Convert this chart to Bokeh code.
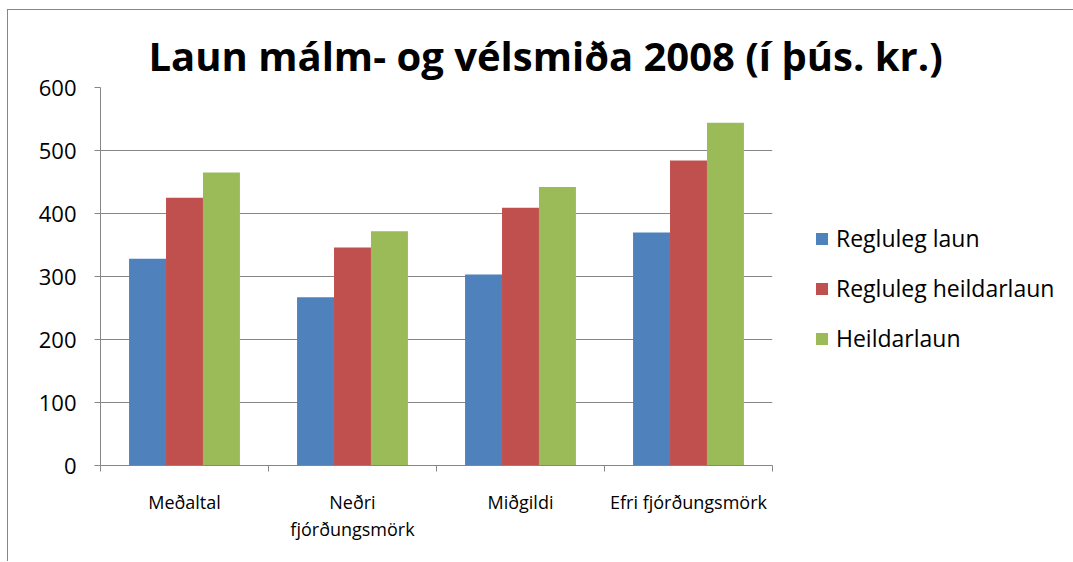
from bokeh.plotting import figure
from bokeh.models import Range1d, FixedTicker, Legend, LegendItem, ColumnDataSource
from bokeh.transform import dodge
from bokeh.embed import file_html
from bokeh.resources import INLINE

categories = ["Meðaltal", "Neðri\nfjórðungsmörk", "Miðgildi", "Efri fjórðungsmörk"]
series_names = ["Regluleg laun", "Regluleg heildarlaun", "Heildarlaun"]
regluleg_laun = [328, 267, 303, 370]
regluleg_heildarlaun = [425, 346, 409, 484]
heildarlaun = [465, 372, 442, 544]
y_ticks = [0, 100, 200, 300, 400, 500, 600]
colors = ["#4F81BD", "#C0504D", "#9BBB59"]

FONT = "Open Sans"
GRAY = "#868686"

src = ColumnDataSource(dict(
    x=list(range(len(categories))),
    s0=regluleg_laun, s1=regluleg_heildarlaun, s2=heildarlaun,
))

W, H = 1064, 551
p = figure(width=W, height=H, output_backend="svg", toolbar_location=None,
           x_range=Range1d(-0.5, len(categories) - 0.5), y_range=Range1d(0, 600),
           min_border_left=92, min_border_top=77, min_border_right=W - 92 - 672,
           min_border_bottom=H - 77 - 378)
p.frame_width = 672
p.frame_height = 378
p.outline_line_color = None
p.background_fill_color = "white"
p.border_fill_color = "white"
p.styles = {"margin-left": "7px", "margin-top": "9px",
            "border-top": "1px solid #868686", "border-left": "1px solid #868686"}

offs = [-0.22, 0.0, 0.22]
renderers = []
for i, key in enumerate(["s0", "s1", "s2"]):
    r = p.vbar(x=dodge("x", offs[i], range=p.x_range), top=key, width=0.22, bottom=0,
               source=src, fill_color=colors[i], line_color=None)
    renderers.append(r)

# title
p.title.text = "Laun málm- og vélsmiða 2008 (í þús. kr.)"
p.title.text_font = FONT
p.title.text_font_style = "bold"
p.title.text_font_size = "40px"
p.title.align = "left"
p.title.offset = 48
p.title.text_color = "black"

# y axis
ya = p.yaxis[0]
ya.ticker = FixedTicker(ticks=y_ticks)
ya.axis_line_color = GRAY
ya.major_tick_line_color = GRAY
ya.major_tick_out = 6
ya.major_tick_in = 0
ya.minor_tick_line_color = None
ya.major_label_text_font = FONT
ya.major_label_text_font_size = "22px"
ya.major_label_text_color = "black"
ya.major_label_standoff = 18

# x axis
xa = p.xaxis[0]
xa.ticker = FixedTicker(ticks=list(range(len(categories))),
                        minor_ticks=[i - 0.5 for i in range(len(categories) + 1)])
xa.major_label_overrides = {i: c for i, c in enumerate(categories)}
xa.axis_line_color = GRAY
xa.major_tick_out = 0
xa.major_tick_in = 0
xa.minor_tick_out = 6
xa.minor_tick_in = 0
xa.minor_tick_line_color = GRAY
xa.major_label_text_font = FONT
xa.major_label_text_font_size = "18px"
xa.major_label_text_color = "black"
xa.major_label_standoff = 18
xa.major_label_text_line_height = 1.15

p.xgrid.grid_line_color = None
p.ygrid.grid_line_color = GRAY
p.ygrid.ticker = FixedTicker(ticks=y_ticks)

legend = Legend(items=[LegendItem(label=n, renderers=[r]) for n, r in zip(series_names, renderers)],
                location=(42, 111), padding=0, margin=0, spacing=18,
                glyph_width=15, glyph_height=15, label_height=30, label_standoff=7,
                label_text_font=FONT, label_text_font_size="23px", label_text_color="black",
                border_line_color=None, background_fill_alpha=0)
p.add_layout(legend, "right")

open("out.html", "w").write(file_html(p, INLINE))
